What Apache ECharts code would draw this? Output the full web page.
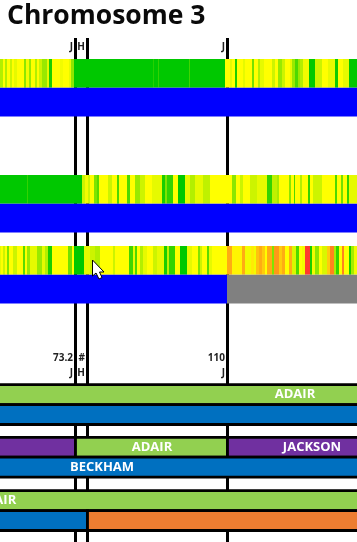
<!DOCTYPE html>
<html>
<head>
<meta charset="utf-8">
<title>Chromosome 3</title>
<style>html,body{margin:0;padding:0;background:#fff}#main{width:357px;height:542px}</style>
<script src="https://cdn.jsdelivr.net/npm/echarts@6/dist/echarts.min.js"></script>
</head>
<body>
<div id="main"></div>
<script>
// x is the marker bin along the chromosome, stripes are [startBin, score]
// score: 0 green, 1 yellow, 2 red
var binCount = 357;
var heatTrack1 = [[0,.7],[3,1],[5,.7],[7,1],[10,.8],[12,1],[14,.9],[17,1],[24,.55],[26,.95],[29,.6],[31,1],[35,.7],[37,1],[39,.8],[42,.6],[47,.9],[49,.1],[52,1],[60,.95],[63,1],[69,.9],[71,.55],[74,0],[153,.15],[154,0],[158,.2],[159,0],[189,.25],[190,0],[225,1],[230,.9],[232,1],[235,.1],[237,1],[243,.9],[245,1],[252,.45],[254,1],[258,.7],[260,.9],[264,1],[272,.8],[275,1],[278,.6],[282,.8],[285,1],[290,.9],[292,.6],[295,.3],[298,.6],[300,.7],[303,.95],[309,0],[315,.8],[322,1],[328,.9],[335,.05],[338,1],[343,.9],[349,0]];
var heatTrack2 = [[0,0],[27,.2],[28,0],[82,.8],[85,.95],[88,.8],[90,1],[94,.5],[97,.35],[99,1],[108,.8],[112,1],[117,.3],[119,1],[127,.3],[130,1],[135,.6],[140,.8],[145,1],[152,.9],[162,.1],[165,.5],[167,.2],[173,1],[178,0],[185,.9],[190,.7],[195,.9],[203,.75],[210,1],[232,.55],[236,1],[240,.8],[243,1],[250,.8],[257,.9],[267,.2],[272,.75],[277,.65],[279,1],[289,.55],[291,1],[294,.3],[295,1],[300,.7],[302,1],[308,.2],[310,1],[313,.8],[322,1],[335,.3],[337,1],[341,.45],[343,1],[347,.2],[349,.9]];
var heatTrack3 = [[0,.9],[1,1],[3,.8],[5,1],[7,.5],[9,1],[13,.8],[17,1],[23,.35],[25,1],[27,.6],[30,.9],[37,.6],[42,.9],[45,.7],[48,.1],[52,1],[68,.45],[72,1],[74,0],[84,.9],[90,.8],[95,.7],[100,1],[113,.8],[115,1],[129,.25],[133,.9],[135,.3],[137,1],[140,.7],[143,.9],[147,1],[153,.8],[157,.9],[164,.1],[167,.75],[169,.2],[175,1],[180,0],[187,.9],[192,1],[198,.5],[200,.8],[202,1],[207,.35],[209,.9],[212,1],[227,1.4],[232,1.05],[242,1.4],[245,.95],[251,1.1],[254,.95],[256,1.3],[259,1.4],[262,1.25],[265,1],[267,1.4],[272,.5],[274,1.5],[279,1.25],[282,1.4],[285,1],[289,1.4],[292,.85],[296,.3],[299,1],[302,.95],[305,1.95],[310,.1],[312,.95],[315,.55],[319,1],[322,.85],[327,1.25],[330,1.6],[334,.65],[336,.2],[339,1],[342,1.6],[344,1],[349,.1],[351,.65],[354,.95]];

// lower tracks, lane 0 and 1 of each panel: [lane, startBin, endBin, colour]
var baseTrack1 = [[1,0,357,'#0000ff']];
var baseTrack2 = [[1,0,357,'#0000ff']];
var baseTrack3 = [[1,0,227,'#0000ff'],[1,227,357,'#808080']];
var ownerTrack1 = [[0,-10,370,'#92d050'],[1,-10,370,'#0070c0']];
var ownerTrack2 = [[0,-10,75.5,'#7030a0'],[0,75.5,227.5,'#92d050'],[0,227.5,370,'#7030a0'],[1,-10,370,'#0070c0']];
var ownerTrack3 = [[0,-10,370,'#92d050'],[1,-10,87.5,'#0070c0'],[1,87.5,370,'#ed7d31']];
// [lane, centreBin, name]
var ownerLabels1 = [[0,295,'ADAIR']];
var ownerLabels2 = [[0,152,'ADAIR'],[0,312,'JACKSON'],[1,102,'BECKHAM']];
var ownerLabels3 = [[0,-4,'ADAIR']];

var markerBins = [75.5, 87.5, 227.5];
var markerNames = ['J', 'H', 'J'];
var markerValues = ['73.2', '#', '110'];

var fontName = '"Open Sans", sans-serif';
var chart = echarts.init(document.getElementById('main'), null, {renderer: 'canvas'});

var grids = [], xAxes = [], yAxes = [], series = [];

function addPanel(top, height) {
    var i = grids.length;
    grids.push({left: 0, right: 0, top: top, height: height});
    xAxes.push({gridIndex: i, type: 'value', min: 0, max: binCount, show: false});
    yAxes.push({gridIndex: i, type: 'category', data: ['a', 'b'], inverse: true, show: false});
    return i;
}

function stripes(track) {
    return track.map(function (s, i) {
        return [0, s[0], i + 1 < track.length ? track[i + 1][0] : binCount, s[1]];
    });
}

// colours: null takes it from the visualMap, else a track list with its own colour column
function renderBand(track, lineWidth) {
    return function (params, api) {
        var a = api.coord([api.value(1), api.value(0)]);
        var b = api.coord([api.value(2), api.value(0)]);
        var h = api.size([0, 1])[1];
        return {
            type: 'rect',
            shape: {x: a[0], y: a[1] - h / 2, width: b[0] - a[0], height: h},
            style: {
                fill: track ? track[params.dataIndex][3] : api.visual('color'),
                stroke: lineWidth ? '#000' : null,
                lineWidth: lineWidth || 0
            }
        };
    };
}

function renderName(labels) {
    return function (params, api) {
        var p = api.coord([api.value(1), api.value(0)]);
        return {
            type: 'text',
            style: {x: p[0], y: p[1], text: labels[params.dataIndex][2], fill: '#fff', align: 'center', verticalAlign: 'middle',
                font: 'bold 13px ' + fontName}
        };
    };
}

function bandSeries(i, data, render) {
    return {type: 'custom', xAxisIndex: i, yAxisIndex: i, data: data, renderItem: render, z: 3, silent: true,
        encode: {x: [1, 2], y: 0}};
}

// vertical marker lines sit behind every track
var lineGrid = addPanel(38, 504);
series.push({
    type: 'custom', xAxisIndex: lineGrid, yAxisIndex: lineGrid, z: 1, silent: true,
    data: markerBins.map(function (b) { return [b]; }),
    encode: {x: 0},
    renderItem: function (params, api) {
        var x = api.coord([api.value(0), 0])[0];
        var top = params.coordSys.y, kids = [];
        var name = markerNames[params.dataIndex], val = markerValues[params.dataIndex];
        kids.push({type: 'line', shape: {x1: x, y1: top, x2: x, y2: top + params.coordSys.height},
            style: {stroke: '#000', lineWidth: 3}});
        [[9, name], [320, val], [335, name]].forEach(function (t) {
            kids.push({type: 'text', style: {
                x: x - 2.5, y: top + t[0], text: t[1], fill: '#222',
                align: 'right', verticalAlign: 'middle', font: 'bold 10px ' + fontName}});
        });
        return {type: 'group', children: kids};
    }
});

// heat panels
var heatSeries = [];
[[59, heatTrack1, baseTrack1], [175, heatTrack2, baseTrack2], [246, heatTrack3, baseTrack3]].forEach(function (p) {
    var i = addPanel(p[0], 57.4);
    heatSeries.push(series.length);
    series.push(bandSeries(i, stripes(p[1]), renderBand(null, 0)));
    series.push(bandSeries(i, p[2], renderBand(p[2], 0)));
});
xAxes[1].show = true;
xAxes[1].position = 'top';
xAxes[1].axisLine = {show: true, lineStyle: {color: '#a6a6a6', width: 1}};
xAxes[1].axisTick = {show: false};
xAxes[1].axisLabel = {show: false};
xAxes[1].splitLine = {show: false};

// owner panels
[[384.7, ownerTrack1, ownerLabels1], [437.3, ownerTrack2, ownerLabels2], [490.7, ownerTrack3, ownerLabels3]].forEach(function (p) {
    var i = addPanel(p[0], 39.8);
    series.push(bandSeries(i, p[1], renderBand(p[1], 2.8)));
    series.push({type: 'custom', xAxisIndex: i, yAxisIndex: i, data: p[2], renderItem: renderName(p[2]), z: 4, silent: true,
        encode: {x: 1, y: 0}});
});

chart.setOption({
    animation: false,
    title: {text: 'Chromosome 3', left: 7, top: 3, padding: 0,
        textStyle: {fontFamily: fontName, fontWeight: 'bold', fontSize: 26.5, color: '#0a0a0a'}},
    grid: grids,
    xAxis: xAxes,
    yAxis: yAxes,
    visualMap: {show: false, type: 'continuous', seriesIndex: heatSeries, dimension: 3, min: 0, max: 2,
        inRange: {color: ['#00c800', '#ffff00', '#ff3030']}},
    series: series,
    // the pointer caught in the screenshot
    graphic: [{type: 'polygon', z: 100, silent: true,
        shape: {points: [[92.5,260],[92.5,276],[96,273],[99,279],[102,277.5],[99.5,272],[104,272]]},
        style: {fill: '#fff', stroke: '#000', lineWidth: 1}}]
});
</script>
</body>
</html>
